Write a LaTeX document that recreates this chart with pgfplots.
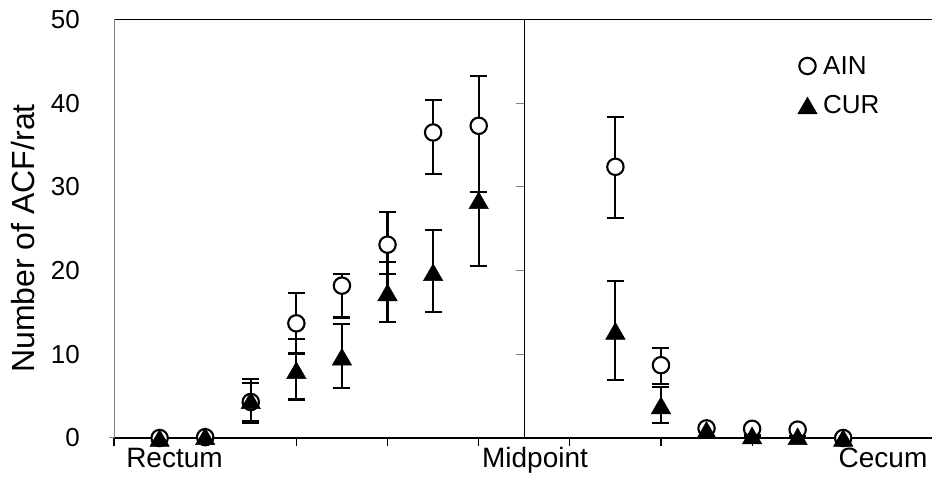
\documentclass[border=0pt]{standalone}
\usepackage{fontspec}
\setmainfont{Liberation Sans}
\usepackage{pgfplots}
\usepackage{pgfplotstable}
\pgfplotsset{compat=1.18}

% x  y  plus-error  minus-error
\pgfplotstableread{
x y ep em
1 0.0 0 0
2 0.1 0 0
3 4.3 2.3 2.3
4 13.7 3.6 3.6
5 18.2 1.4 3.8
6 23.1 3.9 3.5
7 36.5 3.9 5.0
8 37.3 6.0 7.9
}\ainL
\pgfplotstableread{
x y ep em
1 0.0 0 0
2 0.2 0 0
3 4.5 2.6 2.7
4 8.1 3.7 3.5
5 9.7 3.9 3.7
6 17.4 3.6 3.5
7 19.8 5.1 4.8
8 28.4 8.9 7.8
}\curL
\pgfplotstableread{
x y ep em
11 32.4 5.9 6.1
12 8.7 2.1 2.2
13 1.15 0 0
14 1.1 0 0
15 1.0 0 0
16 0.0 0 0
}\ainR
\pgfplotstableread{
x y ep em
11 12.8 6.0 5.9
12 3.9 2.2 2.1
13 0.95 0 0
14 0.3 0 0
15 0.2 0 0
16 0.0 0 0
}\curR

\pgfplotsset{
  common/.style={
    scale only axis, anchor=south west, ymin=0, ymax=50, clip=false,
    axis x line*=box, axis y line*=left, axis line style={-},
    x axis line style={black, line width=1.3pt},
    tick align=outside, major tick length=8pt,
    xtick pos=bottom, ytick pos=left,
    xticklabels={},
    xtick style={black, line width=1.1pt},
    /pgf/number format/assume math mode=true,
  },
  errs/.style={only marks, mark=none, forget plot,
    error bars/.cd, y dir=both, y explicit,
    error bar style={black, solid, line width=2.1pt},
    error mark options={rotate=90, mark size=8.5pt, line width=2.1pt, black, solid}},
  ain/.style={only marks, mark=*, mark size=8.2pt,
    mark options={fill=white, draw=black, line width=2.1pt, solid}},
  cur/.style={only marks, mark=triangle*, mark size=11.2pt,
    mark options={fill=black, draw=black, line width=0.5pt, solid, yshift=-2.8pt}},
}

\begin{document}
\begin{tikzpicture}
\path[use as bounding box] (0pt,0pt) rectangle (933pt,481pt);

% left panel: Rectum -> Midpoint
\begin{axis}[common,
  at={(114pt,43pt)}, width=410.3pt, height=418.5pt,
  xmin=0, xmax=9, xtick={0,4,6,8},
  y axis line style={gray, line width=1pt},
  ytick={0,10,20,30,40,50},
  ytick style={draw=none},
  yticklabel style={font=\fontsize{26}{31}\selectfont, inner sep=0pt, xshift=-26pt},
]
\addplot[errs] table[x=x, y=y, y error plus=ep, y error minus=em] {\ainL};
\addplot[errs] table[x=x, y=y, y error plus=ep, y error minus=em] {\curL};
\addplot[ain] table[x=x, y=y] {\ainL};
\addplot[cur] table[x=x, y=y] {\curL};
\end{axis}

% right panel: Midpoint -> Cecum
\begin{axis}[common,
  at={(524.3pt,43pt)}, width=407.7pt, height=418.5pt,
  xmin=9, xmax=17.95, xtick={10,12,14},
  y axis line style={black, line width=1.5pt},
  ytick={10,20,30,40}, yticklabels={},
  ytick style={gray, line width=1pt},
  legend image code/.code={\draw[#1] plot coordinates {(0pt,0pt)};},
  legend style={at={(rel axis cs:0.771,0.8415)}, anchor=center,
    draw=none, fill=none, inner sep=0pt, row sep=20pt,
    font=\fontsize{26}{31}\selectfont,
    nodes={inner sep=0pt},
    /tikz/every odd column/.append style={column sep=6pt}},
  legend cell align=left,
]
\addplot[errs] table[x=x, y=y, y error plus=ep, y error minus=em] {\ainR};
\addplot[errs] table[x=x, y=y, y error plus=ep, y error minus=em] {\curR};
\addplot[ain] table[x=x, y=y] {\ainR};
\addlegendentry{AIN}
\addplot[cur] table[x=x, y=y] {\curR};
\addlegendentry{CUR}
\end{axis}

\draw[gray, line width=1pt] (109pt,43pt) -- (114pt,43pt);

\node[rotate=90, font=\fontsize{32}{38}\selectfont] at (23.5pt,242.5pt) {Number of ACF/rat};
\node[anchor=base, inner sep=0pt, font=\fontsize{28}{34}\selectfont] at (174.5pt,13pt) {Rectum};
\node[anchor=base, inner sep=0pt, font=\fontsize{28}{34}\selectfont] at (535pt,13pt) {Midpoint};
\node[anchor=base, inner sep=0pt, font=\fontsize{28}{34}\selectfont] at (883pt,13pt) {Cecum};
\end{tikzpicture}
\end{document}
